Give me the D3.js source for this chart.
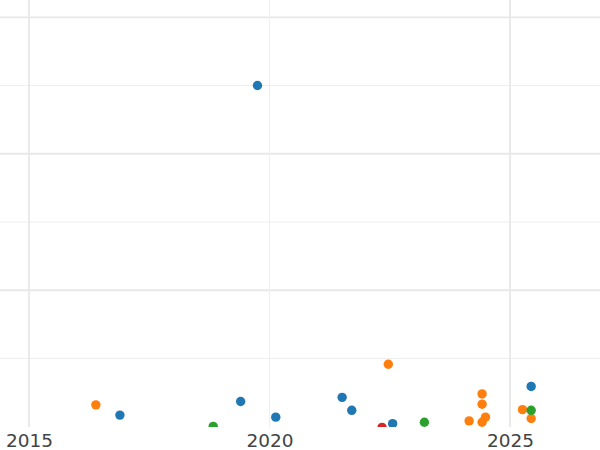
<!DOCTYPE html>
<html>
<head>
<meta charset="utf-8">
<script src="https://cdn.jsdelivr.net/npm/d3@7"></script>
<style>
  html, body { margin: 0; padding: 0; background: #fff; }
  svg { display: block; }
</style>
</head>
<body>
<svg id="chart" width="600" height="450"></svg>
<script>
// ---- data ----
const seriesNames = ["blue", "orange", "green", "red"];
const seriesColors = ["#1f77b4", "#ff7f0e", "#2ca02c", "#d62728"];

const blueYears  = [2016.89, 2019.40, 2019.75, 2020.13, 2021.51, 2021.71, 2022.56, 2025.44];
const blueValues = [17, 37, 500, 14, 43, 24, 4.5, 59];

const orangeYears  = [2016.39, 2022.47, 2024.15, 2024.42, 2024.42, 2024.49, 2024.42, 2025.26, 2025.44];
const orangeValues = [32, 91.5, 8.5, 48, 33, 14, 6.5, 25, 12];

const greenYears  = [2018.83, 2023.22, 2025.44];
const greenValues = [0.5, 6.5, 24];

const redYears  = [2022.34];
const redValues = [-1];

const xTickValues = [2015, 2020, 2025];
const xTickLabels = ["2015", "2020", "2025"];
const xMajorGrid = [2015, 2025];
const xMinorGrid = [2020];
const yMajorGrid = [200, 400, 600];
const yMinorGrid = [100, 300, 500];

// ---- layout ----
const W = 600, H = 450;
const plotBottom = 427;
const svg = d3.select("#chart");

const x = d3.scaleLinear().domain([2015, 2025]).range([29, 510]);
const y = d3.scaleLinear().domain([0, 600]).range([426.7, 17.3]);

const defs = svg.append("defs");
defs.append("clipPath").attr("id", "clip")
  .append("rect").attr("x", 0).attr("y", 0).attr("width", W).attr("height", plotBottom);

const plot = svg.append("g").attr("clip-path", "url(#clip)");

// grid
plot.selectAll("line.ymin").data(yMinorGrid).enter().append("line")
  .attr("x1", 0).attr("x2", W)
  .attr("y1", d => y(d)).attr("y2", d => y(d))
  .attr("stroke", "#eeeeee").attr("stroke-width", 1);
plot.selectAll("line.ymaj").data(yMajorGrid).enter().append("line")
  .attr("x1", 0).attr("x2", W)
  .attr("y1", d => y(d)).attr("y2", d => y(d))
  .attr("stroke", "#e8e8e8").attr("stroke-width", 1.8);
plot.selectAll("line.xmin").data(xMinorGrid).enter().append("line")
  .attr("y1", 0).attr("y2", plotBottom)
  .attr("x1", d => x(d)).attr("x2", d => x(d))
  .attr("stroke", "#eeeeee").attr("stroke-width", 1);
plot.selectAll("line.xmaj").data(xMajorGrid).enter().append("line")
  .attr("y1", 0).attr("y2", plotBottom)
  .attr("x1", d => x(d)).attr("x2", d => x(d))
  .attr("stroke", "#e8e8e8").attr("stroke-width", 1.8);

// points
const seriesData = [
  [blueYears, blueValues],
  [orangeYears, orangeValues],
  [greenYears, greenValues],
  [redYears, redValues]
];
const color = d3.scaleOrdinal().domain(seriesNames).range(seriesColors);

seriesData.forEach(([yrs, vals], i) => {
  const pts = yrs.map((yr, j) => ({ x: yr, y: vals[j] }));
  plot.append("g").selectAll("circle").data(pts).enter().append("circle")
    .attr("cx", d => x(d.x))
    .attr("cy", d => y(d.y))
    .attr("r", 4.7)
    .attr("fill", color(seriesNames[i]));
});

// x axis labels
const xAxis = d3.axisBottom(x).tickValues(xTickValues)
  .tickFormat((d, i) => xTickLabels[i]).tickSize(0).tickPadding(0);
const ax = svg.append("g").attr("transform", `translate(0,${plotBottom})`).call(xAxis);
ax.select(".domain").remove();
ax.selectAll("text")
  .attr("dy", null)
  .attr("y", 20)
  .attr("fill", "#444")
  .style("font-family", "DejaVu Sans, sans-serif")
  .style("font-size", "18.5px");
</script>
</body>
</html>
